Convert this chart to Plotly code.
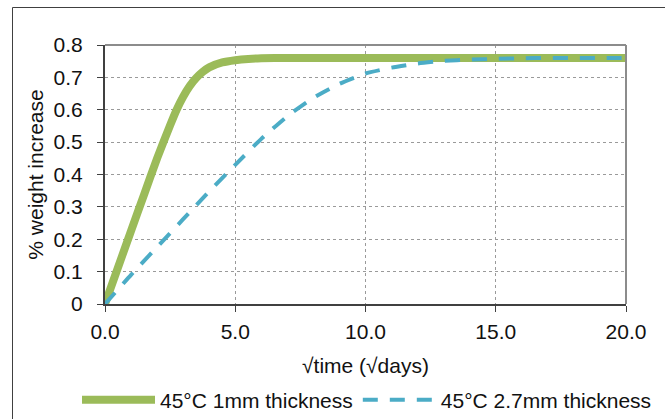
import plotly.graph_objects as go

# Data
x_1mm = [0, 0.5, 1.0, 1.5, 2.0, 2.5, 2.75, 3.0, 3.25, 3.5, 3.75, 4.0, 4.5, 5.0, 5.5, 6.0, 7, 8, 10, 12, 14, 16, 18, 20]
y_1mm = [0, 0.113, 0.226, 0.338, 0.45, 0.552, 0.6, 0.64, 0.673, 0.698, 0.717, 0.731, 0.746, 0.753, 0.757, 0.759, 0.76, 0.76, 0.76, 0.76, 0.76, 0.76, 0.76, 0.76]

x_27mm = [0, 1, 2, 3, 4, 5, 6, 7, 8, 9, 10, 11, 12, 13, 14, 15, 16, 17, 18, 19, 20]
y_27mm = [0, 0.09, 0.176, 0.262, 0.348, 0.43, 0.51, 0.58, 0.637, 0.68, 0.712, 0.73, 0.743, 0.751, 0.755, 0.757, 0.759, 0.76, 0.76, 0.76, 0.76]

x_ticks = [0, 5, 10, 15, 20]
y_ticks = [0, 0.1, 0.2, 0.3, 0.4, 0.5, 0.6, 0.7, 0.8]

FONT = "Liberation Sans, Arial, sans-serif"
TXT = "#111111"
FS = 21

fig = go.Figure()
fig.add_trace(go.Scatter(
    x=x_1mm, y=y_1mm, mode="lines", name="45°C 1mm thickness",
    line=dict(color="#9BBB59", width=8, shape="spline", smoothing=0.5),
))
fig.add_trace(go.Scatter(
    x=x_27mm, y=y_27mm, mode="lines", name="45°C 2.7mm thickness",
    line=dict(color="#4BACC6", width=4, dash="15px,12px", shape="spline", smoothing=0.5),
))

W, H = 665, 419
L, R, T, B = 105, 626, 45, 304
pw, ph = R - L, B - T

def px(xp):
    return (xp - L) / pw

def py(yp):
    return (B - yp) / ph

fig.update_layout(
    width=W, height=H,
    margin=dict(l=L, r=W - R, t=T, b=H - B, autoexpand=False),
    paper_bgcolor="white", plot_bgcolor="white",
    font=dict(family=FONT, size=FS, color=TXT),
    showlegend=True,
    legend=dict(orientation="h", xref="paper", yref="paper",
                x=px(77), xanchor="left", y=py(400), yanchor="middle",
                font=dict(size=FS, color=TXT), itemwidth=73, bgcolor="rgba(0,0,0,0)",
                tracegroupgap=0, borderwidth=0),
    shapes=[
        # plot frame top/right (gray)
        dict(type="line", xref="paper", yref="paper", x0=0, x1=1, y0=1, y1=1,
             line=dict(color="#8c8c8c", width=2), layer="above"),
        dict(type="line", xref="paper", yref="paper", x0=1, x1=1, y0=0, y1=1,
             line=dict(color="#8c8c8c", width=2), layer="above"),
        # outer chart border
        dict(type="line", xref="paper", yref="paper", x0=px(12.5), x1=px(700), y0=py(7.5), y1=py(7.5),
             line=dict(color="#404040", width=1), layer="above"),
        dict(type="line", xref="paper", yref="paper", x0=px(12.5), x1=px(12.5), y0=py(7.5), y1=py(460),
             line=dict(color="#404040", width=1), layer="above"),
    ],
)

fig.update_xaxes(
    range=[0, 20], tickvals=x_ticks, tickformat=".1f",
    showgrid=True, gridcolor="#9a9a9a", griddash="dot", gridwidth=1,
    showline=True, linecolor="#404040", linewidth=2,
    ticks="outside", ticklen=6, tickcolor="#404040", tickwidth=1,
    ticklabelstandoff=2,
    zeroline=False,
    title=dict(text="√time (√days)", font=dict(size=FS, color=TXT), standoff=16),
    tickfont=dict(size=FS, color=TXT),
)
fig.update_yaxes(
    range=[0, 0.8], tickvals=y_ticks,
    showgrid=True, gridcolor="#9a9a9a", griddash="dot", gridwidth=1,
    showline=True, linecolor="#404040", linewidth=2,
    ticks="outside", ticklen=6, tickcolor="#404040", tickwidth=1,
    ticklabelstandoff=10,
    zeroline=False,
    title=dict(text="% weight increase", font=dict(size=FS, color=TXT), standoff=4),
    tickfont=dict(size=FS, color=TXT),
)

fig.write_html("out.html")
